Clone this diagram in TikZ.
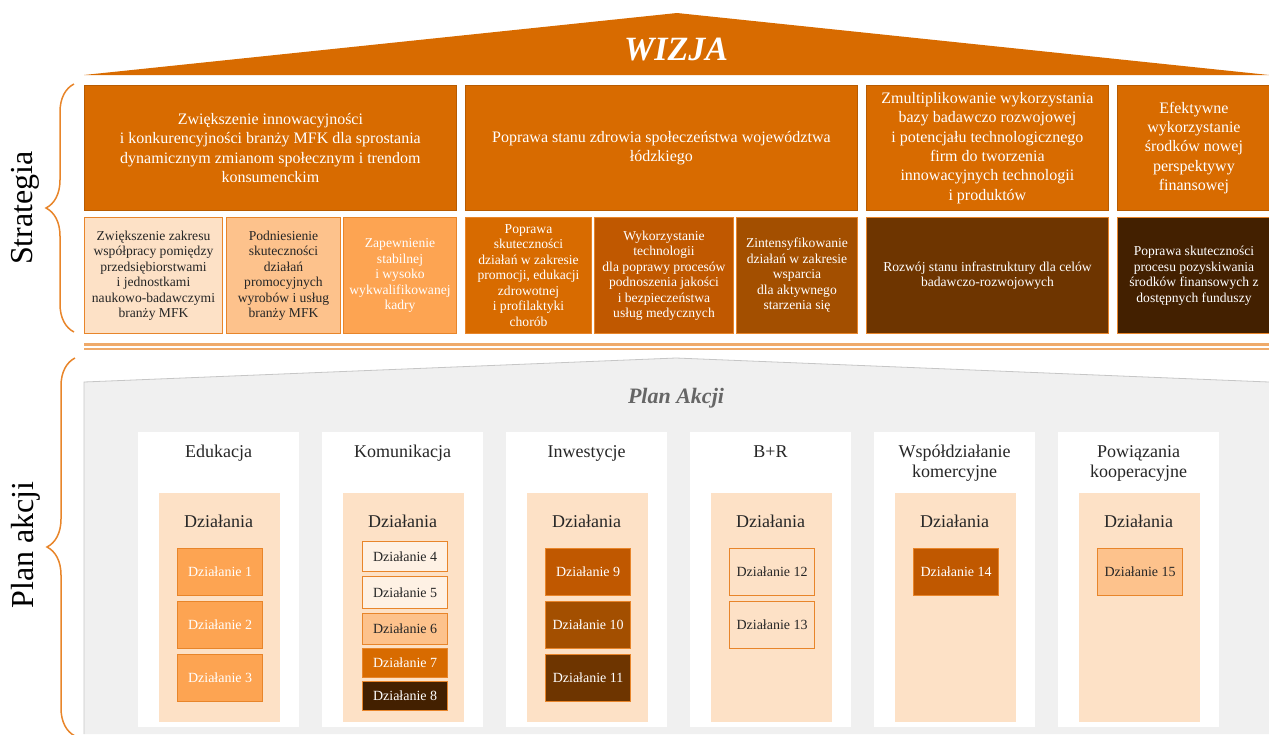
\documentclass[tikz,border=0pt]{standalone}
\usepackage{fontspec}
\setmainfont{Liberation Serif}
\usetikzlibrary{decorations.pathreplacing,positioning}

\definecolor{vision}{HTML}{D86B00}
\definecolor{peach}{HTML}{FDE1C6}
\definecolor{cream}{HTML}{FEF1E4}
\definecolor{apricot}{HTML}{FDC28C}
\definecolor{tangerine}{HTML}{FDA452}
\definecolor{burnt}{HTML}{C05800}
\definecolor{rust}{HTML}{A34F00}
\definecolor{umber}{HTML}{6E3500}
\definecolor{darkbrown}{HTML}{432000}
\definecolor{edge}{HTML}{E8852A}
\definecolor{planbg}{HTML}{F0F0F0}
\definecolor{ink}{HTML}{262626}

\tikzset{
  span/.style 2 args={minimum width=(#1)*0.5pt,minimum height=(#2)*0.5pt,anchor=north west},
  goal/.style={draw=vision!85!black,line width=0.4pt,fill=vision,text=white,inner sep=0pt,align=center,font=\fontsize{8}{9.7}\selectfont},
  aim/.style={draw=edge,line width=0.5pt,inner sep=0pt,align=center,font=\fontsize{6.8}{7.75}\selectfont},
  column/.style={fill=white,inner sep=0pt},
  panel/.style={fill=peach,inner sep=0pt},
  task/.style={draw=edge,line width=0.6pt,inner sep=0pt,font=\fontsize{7}{8}\selectfont},
  heading/.style={text=ink,inner sep=0pt,align=center,font=\fontsize{9}{10}\selectfont},
  bracket/.style={draw=edge,line width=0.75pt,decorate,decoration={brace,amplitude=14pt}},
  sidelabel/.style={rotate=90,text=black,font=\fontsize{16}{16}\selectfont},
  rule/.style={draw=edge!70,line width=1.2pt},
}

\begin{document}
\begin{tikzpicture}[x=0.5pt,y=-0.5pt]
\useasboundingbox (0,0) rectangle (1269,734);

% dach
\fill[vision] (84,75) -- (677,13) -- (1269,75) -- cycle;
\node[text=white,font=\fontsize{17}{17}\selectfont\bfseries\itshape] (wizja) at (676,50) {WIZJA};

% strategia - cele
\node[goal,span={372}{125}] (g1) at (84,85) {Zwiększenie innowacyjności\\ i konkurencyjności branży MFK dla sprostania\\ dynamicznym zmianom społecznym i trendom\\ konsumenckim};
\node[goal,span={392}{125}] (g2) at (465,85) {Poprawa stanu zdrowia społeczeństwa województwa\\ łódzkiego};
\node[goal,span={242}{125}] (g3) at (866,85) {Zmultiplikowanie wykorzystania\\ bazy badawczo rozwojowej\\ i potencjału technologicznego\\ firm do tworzenia\\ innowacyjnych technologii\\ i produktów};
\node[goal,span={153}{125}] (g4) at (1117,85) {Efektywne\\ wykorzystanie\\ środków nowej\\ perspektywy\\ finansowej};

% strategia - cele szczegolowe
\node[aim,fill=peach,text=ink,span={138}{116}] (s1) at (84,217) {Zwiększenie zakresu\\ współpracy pomiędzy\\ przedsiębiorstwami\\ i jednostkami\\ naukowo-badawczymi\\ branży MFK};
\node[aim,fill=apricot,text=ink,span={114}{116}] (s2) at (226,217) {Podniesienie\\ skuteczności\\ działań\\ promocyjnych\\ wyrobów i usług\\ branży MFK};
\node[aim,fill=tangerine,text=white,span={113}{116}] (s3) at (343,217) {Zapewnienie\\ stabilnej\\ i wysoko\\ wykwalifikowanej\\ kadry};
\node[aim,fill=vision,text=white,span={126}{116}] (s4) at (465,217) {Poprawa\\ skuteczności\\ działań w zakresie\\ promocji, edukacji\\ zdrowotnej\\ i profilaktyki\\ chorób};
\node[aim,fill=burnt,text=white,span={139}{116}] (s5) at (594,217) {Wykorzystanie\\ technologii\\ dla poprawy procesów\\ podnoszenia jakości\\ i bezpieczeństwa\\ usług medycznych};
\node[aim,fill=rust,text=white,span={121}{116}] (s6) at (736,217) {Zintensyfikowanie\\ działań w zakresie\\ wsparcia\\ dla aktywnego\\ starzenia się};
\node[aim,fill=umber,text=white,span={242}{116}] (s7) at (866,217) {Rozwój stanu infrastruktury dla celów\\ badawczo-rozwojowych};
\node[aim,fill=darkbrown,text=white,span={153}{116}] (s8) at (1117,217) {Poprawa skuteczności\\ procesu pozyskiwania\\ środków finansowych z\\ dostępnych funduszy};

\draw[rule] (84,344.5) -- (1269,344.5);
\draw[rule] (84,349) -- (1269,349);

% plan akcji
\fill[planbg] (84,734) -- (84,382) -- (676,358) -- (1269,382) -- (1269,734) -- cycle;
\draw[gray!45] (84,734) -- (84,382) -- (676,358) -- (1269,382);
\node[text=black!60,font=\fontsize{11}{11}\selectfont\bfseries\itshape] (plan) at (676,398) {Plan Akcji};

\foreach \title [count=\n] in {Edukacja,Komunikacja,Inwestycje,B+R,{Współdziałanie\\komercyjne},{Powiązania\\kooperacyjne}} {
  \pgfmathsetmacro\xl{138+184*(\n-1)}
  \node[column,span={161}{295}] (col\n) at (\xl,432) {};
  \node[panel,span={121}{229}] (box\n) at (\xl+21,493) {};
  \node[heading,anchor=north] (head\n) at (\xl+80.5,445) {\title};
  \node[heading] (acts\n) at (\xl+80.5,521) {Działania};
}

\foreach \n/\xa/\ya/\yb/\bg/\fg in {
  1/177/548/595/tangerine/white,
  2/177/601/648/tangerine/white,
  3/177/654/701/tangerine/white,
  4/362/541/571/cream/ink,
  5/362/576/608/cream/ink,
  6/362/613/644/apricot/ink,
  7/362/648/677/vision/white,
  8/362/681/710/darkbrown/white,
  9/545/548/595/burnt/white,
  10/545/601/648/rust/white,
  11/545/654/701/umber/white,
  12/729/548/595/peach/ink,
  13/729/601/648/peach/ink,
  14/913/548/595/burnt/white,
  15/1097/548/595/apricot/ink}
  \node[task,fill=\bg,text=\fg,span={85}{\yb-\ya}] (d\n) at (\xa,\ya) {Działanie \n};

% klamry
\draw[bracket] (74,332) -- (74,84);
\draw[bracket] (75,736) -- (75,358);
\node[sidelabel] (strat) at (25,208) {Strategia};
\node[sidelabel] (akcje) at (26,545) {Plan akcji};
\end{tikzpicture}
\end{document}
